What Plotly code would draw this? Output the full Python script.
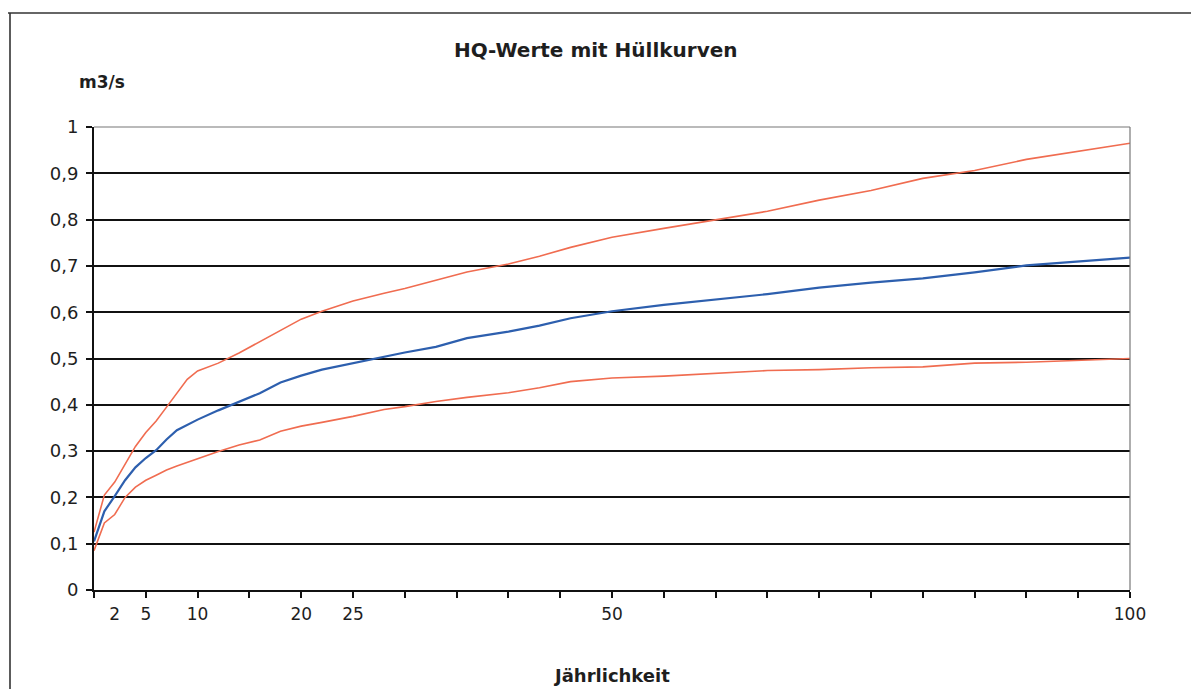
import plotly.graph_objects as go

# Jährlichkeit (return period) and discharge values in m3/s
jaehrlichkeit = [0, 1, 2, 3, 4, 5, 6, 7, 8, 9, 10, 12, 14, 16, 18, 20, 22, 25, 28, 30,
                 33, 36, 40, 43, 46, 50, 55, 60, 65, 70, 75, 80, 85, 90, 95, 100]

hq_werte = [0.105, 0.170, 0.203, 0.237, 0.265, 0.285, 0.302, 0.325, 0.345, 0.356,
            0.368, 0.388, 0.407, 0.425, 0.448, 0.463, 0.476, 0.490, 0.505, 0.513,
            0.525, 0.544, 0.558, 0.571, 0.587, 0.602, 0.616, 0.628, 0.639, 0.653,
            0.664, 0.673, 0.686, 0.701, 0.709, 0.718]

huelle_oben = [0.125, 0.205, 0.233, 0.270, 0.310, 0.340, 0.365, 0.395, 0.425, 0.455,
               0.473, 0.490, 0.512, 0.536, 0.561, 0.585, 0.602, 0.624, 0.641, 0.651,
               0.669, 0.687, 0.704, 0.721, 0.740, 0.762, 0.781, 0.800, 0.818, 0.842,
               0.863, 0.889, 0.906, 0.930, 0.948, 0.965]

huelle_unten = [0.085, 0.145, 0.163, 0.200, 0.222, 0.237, 0.248, 0.259, 0.268, 0.276,
                0.284, 0.299, 0.313, 0.324, 0.343, 0.354, 0.362, 0.375, 0.390, 0.396,
                0.407, 0.416, 0.426, 0.437, 0.450, 0.458, 0.462, 0.468, 0.474, 0.476,
                0.480, 0.482, 0.490, 0.492, 0.496, 0.500]

x_label_vals = [2, 5, 10, 20, 25, 50, 100]
x_label_text = ["2", "5", "10", "20", "25", "50", "100"]
y_tick_vals = [0, 0.1, 0.2, 0.3, 0.4, 0.5, 0.6, 0.7, 0.8, 0.9, 1.0]
y_tick_text = ["0", "0,1", "0,2", "0,3", "0,4", "0,5", "0,6", "0,7", "0,8", "0,9", "1"]

W, H = 1191, 689
ML, MR, MT, MB = 94, 61, 127, 99
PW, PH = W - ML - MR, H - MT - MB

def px_x(px):
    return (px - ML) / PW

def px_y(py):
    return (H - MB - py) / PH

FONT = "DejaVu Sans"
TXT = "#1e1e1e"
RED = "#f06c50"
BLUE = "#2d5fae"

fig = go.Figure()
fig.add_trace(go.Scatter(x=jaehrlichkeit, y=huelle_unten, mode="lines",
                         line=dict(color=RED, width=1.6), name="Hüllkurve unten"))
fig.add_trace(go.Scatter(x=jaehrlichkeit, y=huelle_oben, mode="lines",
                         line=dict(color=RED, width=1.6), name="Hüllkurve oben"))
fig.add_trace(go.Scatter(x=jaehrlichkeit, y=hq_werte, mode="lines",
                         line=dict(color=BLUE, width=2.2), name="HQ"))
# carrier for the labelled category axis
fig.add_trace(go.Scatter(x=[None], y=[None], xaxis="x2", yaxis="y",
                         showlegend=False, hoverinfo="skip"))

fig.update_layout(
    width=W, height=H,
    margin=dict(l=ML, r=MR, t=MT, b=MB),
    paper_bgcolor="white", plot_bgcolor="white",
    showlegend=False,
    font=dict(family=FONT, color=TXT),
    xaxis=dict(
        range=[0, 100], tickmode="array", tickvals=list(range(0, 101, 5)),
        ticktext=[""] * 21, ticks="outside", ticklen=6, tickwidth=2, tickcolor="#111",
        showgrid=False, zeroline=False, showline=True, linecolor="#111", linewidth=2,
    ),
    xaxis2=dict(
        range=[0, 100], overlaying="x", anchor="y", side="bottom",
        tickmode="array", tickvals=x_label_vals, ticktext=x_label_text,
        ticks="", showgrid=False, zeroline=False, showline=False,
        tickfont=dict(family=FONT, size=17, color=TXT), ticklabelstandoff=12,
    ),
    yaxis=dict(
        range=[0, 1], tickmode="array", tickvals=y_tick_vals, ticktext=y_tick_text,
        ticks="outside", ticklen=6, tickwidth=2, tickcolor="#111",
        showgrid=True, gridcolor="#111", gridwidth=2,
        zeroline=False, showline=True, linecolor="#111", linewidth=2,
        tickfont=dict(family=FONT, size=18, color=TXT), ticklabelstandoff=4,
    ),
)

# plot frame (top and right) and outer chart frame
fig.add_shape(type="line", xref="paper", yref="paper", x0=0, x1=1, y0=1, y1=1,
              line=dict(color="#777", width=1.2))
fig.add_shape(type="line", xref="paper", yref="paper", x0=1, x1=1, y0=0, y1=1,
              line=dict(color="#777", width=1.2))
fig.add_shape(type="line", xref="paper", yref="paper",
              x0=px_x(10), x1=px_x(10), y0=px_y(13), y1=px_y(H + 2),
              line=dict(color="#333", width=1.6))
fig.add_shape(type="line", xref="paper", yref="paper",
              x0=px_x(8), x1=px_x(W + 2), y0=px_y(13), y1=px_y(13),
              line=dict(color="#333", width=1.6))

fig.add_annotation(text="<b>HQ-Werte mit Hüllkurven</b>", xref="paper", yref="paper",
                   x=px_x(596), y=px_y(50), xanchor="center", yanchor="middle",
                   showarrow=False, font=dict(family=FONT, size=20, color=TXT))
fig.add_annotation(text="<b>m3/s</b>", xref="paper", yref="paper",
                   x=px_x(102), y=px_y(82), xanchor="center", yanchor="middle",
                   showarrow=False, font=dict(family=FONT, size=17, color=TXT))
fig.add_annotation(text="<b>Jährlichkeit</b>", xref="paper", yref="paper",
                   x=px_x(611), y=px_y(675), xanchor="center", yanchor="middle",
                   showarrow=False, font=dict(family=FONT, size=18, color=TXT))

fig.write_html("out.html")
